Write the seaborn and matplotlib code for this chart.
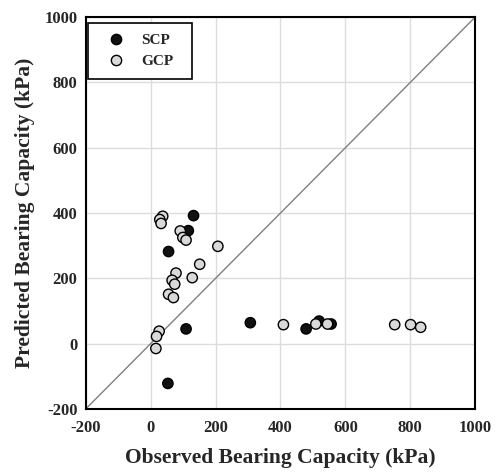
import numpy as np
import pandas as pd
import seaborn as sns
from matplotlib import pyplot as plt

# data (kPa)
scp_observed  = [132, 116, 55, 109, 53, 307, 479, 519, 556]
scp_predicted = [392, 346, 282, 45, -122, 64, 45, 69, 60]

gcp_observed  = [37, 28, 32, 91, 99, 109, 207, 151, 78, 66, 74, 128, 55, 70,
                 26, 18, 16, 409, 509, 545, 752, 801, 832]
gcp_predicted = [390, 380, 368, 345, 325, 317, 298, 243, 216, 194, 182, 202,
                 151, 141, 38, 22, -15, 58, 60, 60, 58, 58, 50]

ticks = [-200, 0, 200, 400, 600, 800, 1000]

df = pd.DataFrame({
    'observed':  scp_observed + gcp_observed,
    'predicted': scp_predicted + gcp_predicted,
    'type':      ['SCP'] * len(scp_observed) + ['GCP'] * len(gcp_observed),
})

sns.set_style('white')
plt.rcParams['font.family'] = ['Liberation Serif', 'DejaVu Serif']
plt.rcParams['font.weight'] = 'bold'
plt.rcParams['axes.unicode_minus'] = False

fig = plt.figure(figsize=(4.96, 4.76), dpi=100)
ax = fig.add_axes([0.173, 0.141, 0.785, 0.823])

# gridlines and 1:1 line
ax.grid(True, color='#dcdcdc', linewidth=1)
ax.set_axisbelow(True)
ax.plot([-200, 1000], [-200, 1000], color='#808080', linewidth=1, zorder=1)

sns.scatterplot(data=df, x='observed', y='predicted', hue='type',
                palette={'SCP': '#111111', 'GCP': '#d9d9d9'},
                edgecolor='black', linewidth=1, s=55, ax=ax, zorder=3)

ax.set_xlim(-200, 1000)
ax.set_ylim(-200, 1000)
ax.set_xticks(ticks)
ax.set_yticks(ticks)
ax.tick_params(length=0, labelsize=12)
ax.tick_params(axis='x', pad=8)
ax.tick_params(axis='y', pad=6)
for lab in ax.get_xticklabels() + ax.get_yticklabels():
    lab.set_fontweight('bold')
for sp in ax.spines.values():
    sp.set_color('black')
    sp.set_linewidth(1.5)

ax.set_xlabel('Observed Bearing Capacity (kPa)', fontsize=15.5, fontweight='bold', labelpad=9)
ax.set_ylabel('Predicted Bearing Capacity (kPa)', fontsize=15.5, fontweight='bold', labelpad=7)

leg = ax.legend(loc='upper left', bbox_to_anchor=(0.005, 0.985, 0.267, 0.0),
                mode='expand', borderaxespad=0, fancybox=False,
                edgecolor='black', framealpha=1, fontsize=11, borderpad=0.7,
                handletextpad=0.5, labelspacing=0.45, handlelength=2.3)
leg.get_frame().set_linewidth(1.2)
for t in leg.get_texts():
    t.set_fontweight('bold')

plt.savefig('out.png', dpi=100)
